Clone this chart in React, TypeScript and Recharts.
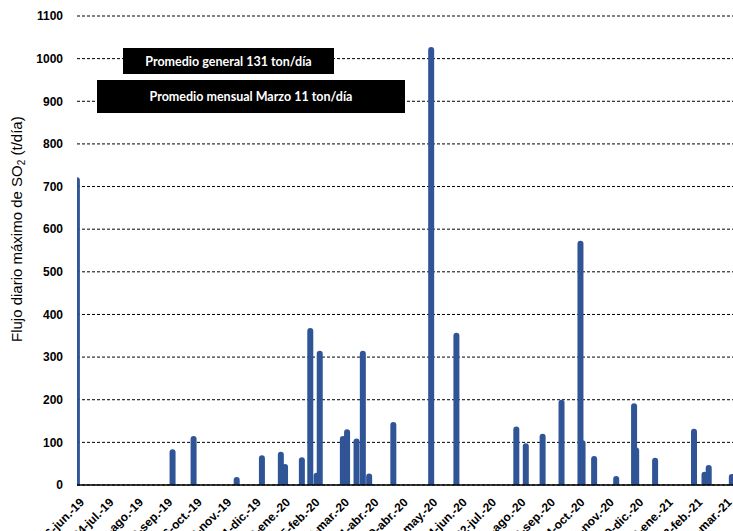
import React from "react";
import { BarChart, Bar, XAxis, YAxis, CartesianGrid } from "recharts";

// Day offsets from 26-jun-2019 and daily maximum SO2 flux (t/día)
const barDays = [0, 91, 111, 152, 176, 194, 198, 214, 222, 228, 231, 253, 257, 266, 272, 278, 301, 337, 361, 418, 427, 443, 461, 479, 481, 492, 513, 530, 532, 550, 587, 597, 601, 623];
const barValues = [722, 84, 115, 19, 70, 78, 49, 65, 368, 29, 315, 115, 131, 109, 315, 27, 148, 1027, 357, 137, 98, 120, 200, 573, 105, 68, 21, 192, 88, 64, 132, 31, 47, 26];

const tickLabels = [
  "26-jun.-19", "24-jul.-19", "21-ago.-19", "18-sep.-19", "16-oct.-19", "13-nov.-19",
  "11-dic.-19", "8-ene.-20", "5-feb.-20", "4-mar.-20", "1-abr.-20", "29-abr.-20",
  "27-may.-20", "24-jun.-20", "22-jul.-20", "19-ago.-20", "16-sep.-20", "14-oct.-20",
  "11-nov.-20", "9-dic.-20", "6-ene.-21", "3-feb.-21", "3-mar.-21",
];
const tickDays = tickLabels.map((_, i) => i * 28);
const yTicks = [0, 100, 200, 300, 400, 500, 600, 700, 800, 900, 1000, 1100];

const data = barDays.map((d, i) => ({ day: d, value: barValues[i] }));

const BAR_COLOR = "#2F5597";
const FONT = "'Liberation Sans', Arial, sans-serif";

const BarShape = (props: any) => {
  const { x, y, width, height } = props;
  if (height == null || height <= 0) return null;
  const cx = x + width / 2;
  const w = 6;
  const r = 3;
  const bottom = y + height;
  const top = y;
  const d = `M${cx - w / 2},${bottom} L${cx - w / 2},${top + r} A${r},${r} 0 0 1 ${cx + w / 2},${top + r} L${cx + w / 2},${bottom} Z`;
  return <path d={d} fill={BAR_COLOR} />;
};

const XTick = (props: any) => {
  const { x, y, payload } = props;
  const idx = tickDays.indexOf(payload.value);
  const label = idx >= 0 ? tickLabels[idx] : "";
  const ax = x + 8;
  const ay = y + 10;
  return (
    <text
      x={ax}
      y={ay}
      transform={`rotate(-45, ${ax}, ${ay})`}
      textAnchor="end"
      fontFamily={FONT}
      fontWeight="bold"
      fontSize={12}
      fill="#000"
    >
      {label}
    </text>
  );
};

const YLabel = () => (
  <text
    x={22}
    y={342}
    transform="rotate(-90, 22, 342)"
    textAnchor="start"
    fontFamily={FONT}
    fontSize={15}
    fill="#000"
  >
    Flujo diario máximo de SO
    <tspan fontSize={10} dy={3}>2</tspan>
    <tspan dy={-3}> (t/día)</tspan>
  </text>
);

const boxStyle: React.CSSProperties = {
  position: "absolute",
  background: "#000",
  color: "#fff",
  fontFamily: "Lato, 'Open Sans', sans-serif",
  fontWeight: "bold",
  display: "flex",
  alignItems: "center",
  justifyContent: "center",
  whiteSpace: "nowrap",
};

export default function App() {
  return (
    <div style={{ position: "absolute", left: 0, top: 0, width: 733, height: 531, background: "#fff", overflow: "hidden" }}>
      <BarChart width={733} height={531} data={data} margin={{ top: 16, right: 0, left: 0, bottom: 0 }}>
        <CartesianGrid vertical={false} stroke="#000" strokeDasharray="3 2" strokeWidth={1} />
        <XAxis
          dataKey="day"
          type="number"
          domain={[0, 624]}
          ticks={tickDays}
          interval={0}
          height={46}
          axisLine={{ stroke: "#000", strokeWidth: 1.5 }}
          tickLine={false}
          tick={<XTick />}
          allowDataOverflow
        />
        <YAxis
          type="number"
          domain={[0, 1100]}
          ticks={yTicks}
          width={77}
          axisLine={false}
          tickLine={false}
          tickSize={6}
          tickMargin={8}
          interval={0}
          tick={{ fontFamily: FONT, fontWeight: "bold", fontSize: 12, fill: "#000" }}
          label={<YLabel />}
        />
        <Bar dataKey="value" fill={BAR_COLOR} barSize={6} shape={<BarShape />} isAnimationActive={false} />
      </BarChart>
      <div style={{ ...boxStyle, left: 123, top: 48, width: 211, height: 26, fontSize: 12.5 }}>
        Promedio general 131 ton/día
      </div>
      <div style={{ ...boxStyle, left: 97, top: 80, width: 308, height: 33, fontSize: 12.5 }}>
        Promedio mensual Marzo 11 ton/día
      </div>
    </div>
  );
}
